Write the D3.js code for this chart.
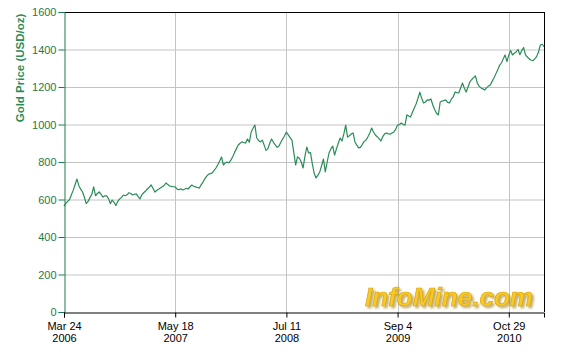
<!DOCTYPE html>
<head>
 <script src="https://cdn.jsdelivr.net/npm/d3@7"></script>
 <title>Gold Price</title>
</head>

<style>
body{
  margin: 0;
  background-color: white;
}
text{
  font-family: Arial, "Liberation Sans", sans-serif;
}
</style>

<body>
 <div id="chart"></div>
</body>

<script type="text/javascript">
 // weekly gold price (USD/oz), first week is Fri Mar 24 2006
 var startDate = "2006-03-24";
 var prices2006 = [565,580,590,600,625,650,680,709,675,655,
   640,612,578,590,610,628,667,620,632,640,
   628,613,620,619,605,578,597,585,568,590,
   603,610,624,620,625,636,632,624,628,630,
   615];
 var prices2007 = [603,625,636,645,656,665,678,660,640,648,
   655,661,668,675,688,680,672,670,668,667,
   655,652,657,651,655,660,656,668,677,670,
   667,664,661,678,693,710,725,735,738,742,
   755,768,785,805,827,784,795,800,795,810,
   827,850];
 var prices2008 = [870,891,900,907,904,901,923,905,960,980,
   997,928,915,907,917,890,862,870,900,923,
   905,891,878,885,905,923,940,960,945,930,
   917,850,784,827,820,800,768,830,880,848,
   850,790,740,715,730,747,780,816,747,800,
   848,870];
 var prices2009 = [885,837,870,900,928,912,950,997,933,940,
   950,955,907,890,875,878,895,910,917,935,
   955,981,960,944,935,925,912,935,950,955,
   950,948,955,960,975,997,1000,1008,1000,997,
   1051,1045,1040,1065,1088,1110,1140,1173,1140,1115,
   1120,1131];
 var prices2010 = [1130,1136,1104,1080,1060,1051,1120,1125,1128,1131,
   1118,1115,1135,1147,1173,1170,1168,1195,1221,1195,
   1173,1200,1227,1240,1250,1259,1221,1205,1195,1190,
   1184,1195,1205,1211,1230,1248,1270,1291,1315,1328,
   1350,1371,1335,1370,1395,1371,1380,1387,1400,1372,
   1395,1410,1371];
 var prices2011 = [1360,1350,1344,1340,1350,1362,1385,1424,1428,1415];

 var tickDates = ["2006-03-24","2007-05-18","2008-07-11","2009-09-04","2010-10-29"];
 var yTicks = [0,200,400,600,800,1000,1200,1400,1600];

 var props = {
   width: 564,
   height: 362,
   left: 64,
   right: 544,
   top: 12,
   bottom: 312
 }

 var parse = d3.timeParse("%Y-%m-%d");
 var start = parse(startDate);
 var prices = [].concat(prices2006, prices2007, prices2008, prices2009, prices2010, prices2011);
 var data = prices.map(function(p, i){
   return {date: d3.timeDay.offset(start, 7 * i), price: p};
 });

 var svg = d3.select("#chart").append("svg")
   .attr("width", props.width).attr("height", props.height);

 // soft shadow for the watermark
 var shadow = svg.append("defs").append("filter").attr("id", "wmShadow")
   .attr("x", "-5%").attr("y", "-20%").attr("width", "115%").attr("height", "150%");
 shadow.append("feDropShadow")
   .attr("dx", 2).attr("dy", 2).attr("stdDeviation", 1)
   .attr("flood-color", "#9a7a10").attr("flood-opacity", 0.6);

 var x = d3.scaleTime()
   .domain([start, data[data.length - 1].date])
   .range([props.left, props.right]);
 var y = d3.scaleLinear().domain([0, 1600]).range([props.bottom, props.top]);

 // grid
 svg.append("g").selectAll("line").data(yTicks.slice(1, -1)).enter().append("line")
   .attr("x1", props.left).attr("x2", props.right)
   .attr("y1", function(d){ return y(d) + 0.5; }).attr("y2", function(d){ return y(d) + 0.5; })
   .attr("stroke", "#c4c4c4").attr("stroke-width", 1);
 svg.append("g").selectAll("line").data(tickDates.slice(1)).enter().append("line")
   .attr("x1", function(d){ return Math.round(x(parse(d))) + 0.5; })
   .attr("x2", function(d){ return Math.round(x(parse(d))) + 0.5; })
   .attr("y1", props.top).attr("y2", props.bottom)
   .attr("stroke", "#c4c4c4").attr("stroke-width", 1);

 // watermark
 svg.append("text")
   .attr("x", 533).attr("y", 306)
   .attr("text-anchor", "end")
   .attr("textLength", 168).attr("lengthAdjust", "spacingAndGlyphs")
   .style("font-size", "25px").style("font-weight", "bold").style("font-style", "italic")
   .attr("fill", "#f7c82a").attr("stroke", "#d9a400").attr("stroke-width", 0.6)
   .attr("filter", "url(#wmShadow)")
   .text("InfoMine.com");

 // frame
 svg.append("line").attr("x1", props.left).attr("x2", props.right + 0.5)
   .attr("y1", props.top + 0.5).attr("y2", props.top + 0.5).attr("stroke", "black");
 svg.append("line").attr("x1", props.right + 0.5).attr("x2", props.right + 0.5)
   .attr("y1", props.top).attr("y2", props.bottom).attr("stroke", "black");

 // price line
 var line = d3.line()
   .x(function(d){ return x(d.date); })
   .y(function(d){ return y(d.price); });
 svg.append("path").datum(data)
   .attr("d", line)
   .attr("fill", "none")
   .attr("stroke", "#2b8c58")
   .attr("stroke-width", 1.2)
   .attr("stroke-linejoin", "round");

 // y axis
 var yAxis = svg.append("g")
   .attr("transform", "translate(" + (props.left + 0.5) + ",0)")
   .call(d3.axisLeft(y).tickValues(yTicks).tickFormat(d3.format("d")).tickSize(6).tickPadding(2));
 yAxis.select(".domain").attr("stroke", "#1e7a4a");
 yAxis.selectAll(".tick line").attr("stroke", "#1e7a4a");
 yAxis.selectAll(".tick text").attr("fill", "#1e7a4a").style("font-size", "11px")
   .attr("font-family", null);

 // x axis
 var xAxis = svg.append("g")
   .attr("transform", "translate(0," + (props.bottom + 0.5) + ")")
   .call(d3.axisBottom(x).tickValues(tickDates.map(parse)).tickSize(5).tickFormat(""));
 xAxis.select(".domain").attr("stroke", "black");
 xAxis.selectAll(".tick line").attr("stroke", "black");
 xAxis.selectAll(".tick").each(function(d){
   var t = d3.select(this).append("text").attr("fill", "black")
     .attr("text-anchor", "middle").style("font-size", "11px");
   t.append("tspan").attr("x", 0).attr("y", 17).text(d3.timeFormat("%b %-d")(d));
   t.append("tspan").attr("x", 0).attr("y", 29).text(d3.timeFormat("%Y")(d));
 });

 // y title
 svg.append("text")
   .attr("transform", "translate(24,68) rotate(-90)")
   .attr("text-anchor", "middle")
   .attr("fill", "#2b8c58")
   .style("font-size", "11.5px").style("font-weight", "bold")
   .text("Gold Price (USD/oz)");
</script>
